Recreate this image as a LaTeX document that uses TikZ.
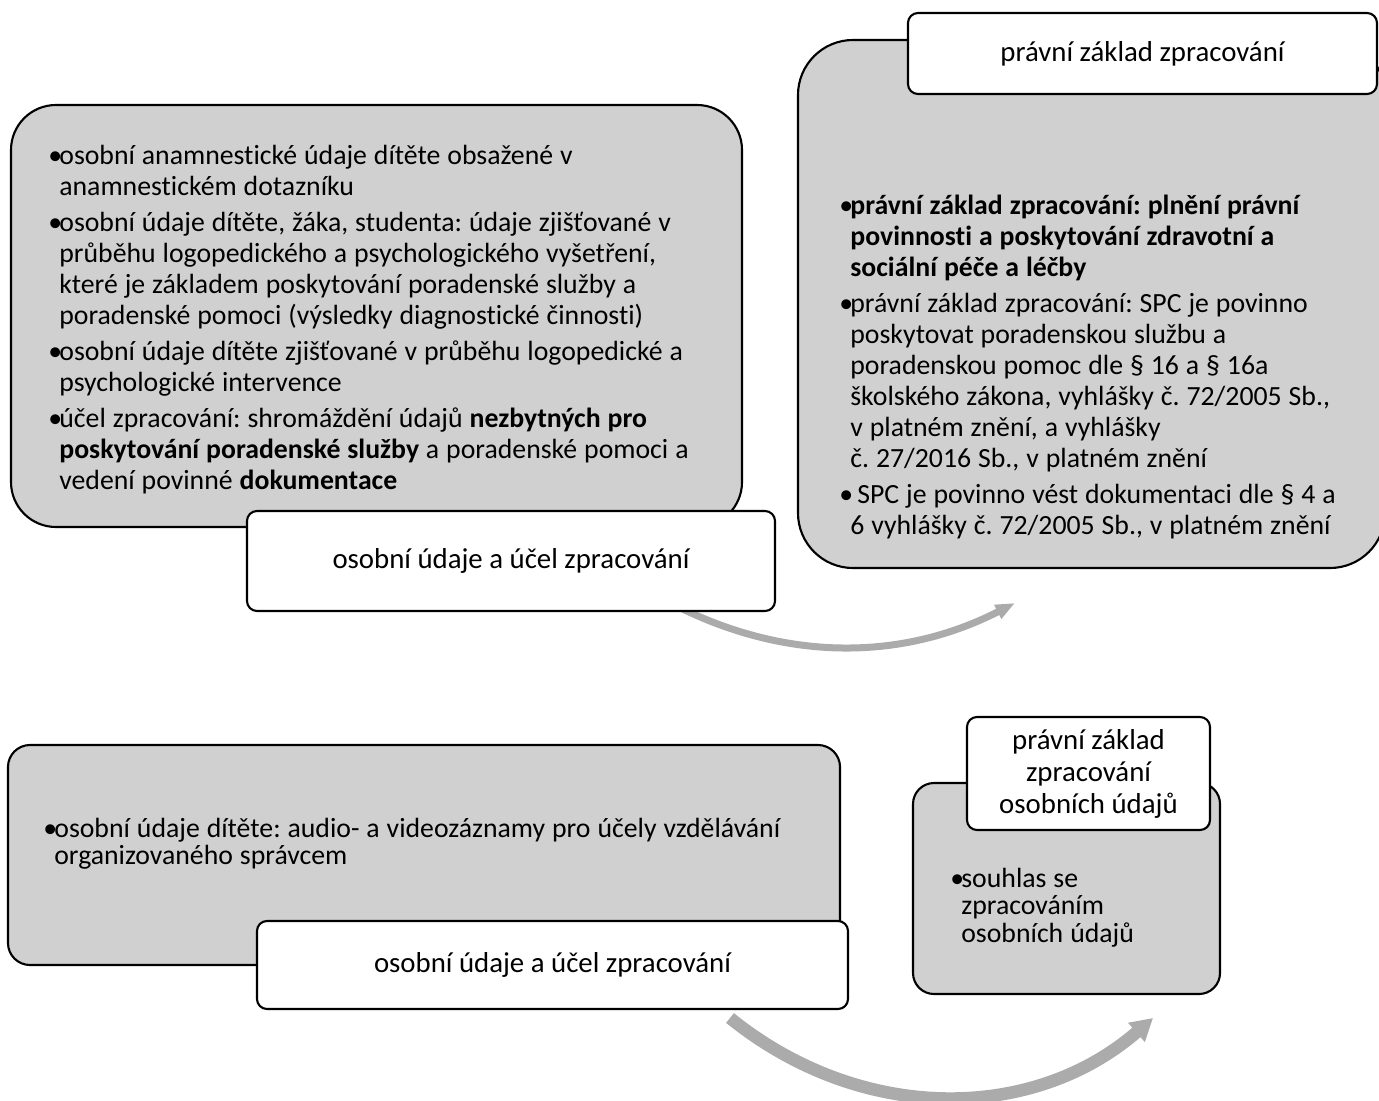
\documentclass[tikz,border=0pt]{standalone}
\usepackage{fontspec}
\setmainfont{Carlito}[Ligatures=NoCommon]
\usepackage{xcolor}
\usepackage{tikz}
\usetikzlibrary{arrows.meta}
\definecolor{PanelGray}{HTML}{D0D0D0}
\definecolor{ArrowGray}{HTML}{ABABAB}
\definecolor{Ink}{HTML}{000000}
\newlength{\bul}\setlength{\bul}{2.2mm}
\newcommand{\bitem}[1]{\noindent\hangindent=\bul\hangafter=1\makebox[\bul][l]{•}#1\par}

\begin{document}
\frenchspacing
\begin{tikzpicture}[x=0.2mm,y=-0.2mm,
  panel/.style={draw=Ink,line width=1.2pt,fill=PanelGray,rounded corners=#1,inner sep=0pt},
  panel/.default=0.9cm,
  tag/.style={draw=Ink,line width=1.2pt,fill=white,rounded corners=0.2cm,inner sep=0pt,align=center,font=\fontsize{16.4}{18.2}\selectfont},
  bullets/.style={text width=#1,align=left,inner sep=0pt,anchor=base west,execute at begin node={\raggedright\frenchspacing\spaceskip=0.25em\setlength{\parskip}{2.8pt}}},
  flow/.style={draw=ArrowGray,line width=#1}
]
\useasboundingbox (0,0) rectangle (1379,1100);
% grey panels
\node[panel=0.9cm,minimum width=146.2mm,minimum height=84.4mm] (p1) at (376.5,316) {};
\node[panel=1.1cm,minimum width=117.4mm,minimum height=105.6mm] (p2) at (1091.5,304) {};
\node[panel=0.44cm,minimum width=166.4mm,minimum height=44mm] (p3) at (424,855) {};
\node[panel=0.42cm,minimum width=61.4mm,minimum height=42.2mm] (p4) at (1066.5,888.5) {};
% arrows
\coordinate (a1) at (665,600);
\coordinate (b1) at (1015,603);
\coordinate (a2) at (730,1018);
\coordinate (b2) at (1153,1018);
\draw[flow=1.4mm,-{Triangle[length=3.9mm,width=2.9mm]}] (a1) .. controls (780,662) and (900,662) .. (b1);
\draw[flow=2.5mm,-{Triangle[length=4.4mm,width=4.8mm]}] (a2) .. controls (860,1123) and (1032,1123) .. (b2);
% white tags
\node[tag,minimum width=105.6mm,minimum height=20mm] (l1) at (511,561) {osobní údaje a účel zpracování};
\node[tag,minimum width=93.8mm,minimum height=16.2mm] (l2) at (1142.5,53.5) {právní základ zpracování};
\node[tag,minimum width=118.2mm,minimum height=17.6mm] (l3) at (552.5,965) {osobní údaje a účel zpracování};
\node[tag,minimum width=48.6mm,minimum height=22.6mm] (l4) at (1088.5,773.5) {právní základ\\zpracování\\osobních údajů};
% bullet texts
\node[bullets=140mm,font=\fontsize{15.8}{17.6}\selectfont] (t1) at (48,165) {%
\bitem{osobní anamnestické údaje dítěte obsažené v\newline anamnestickém dotazníku}
\bitem{osobní údaje dítěte, žáka, studenta: údaje zjišťované v\newline průběhu logopedického a psychologického vyšetření,\newline které je základem poskytování poradenské služby a\newline poradenské pomoci (výsledky diagnostické činnosti)}
\bitem{osobní údaje dítěte zjišťované v průběhu logopedické a\newline psychologické intervence}
\bitem{účel zpracování: shromáždění údajů \textbf{nezbytných pro}\newline \textbf{poskytování poradenské služby} a poradenské pomoci a\newline vedení povinné \textbf{dokumentace}}};
\node[bullets=105mm,font=\fontsize{15.8}{17.6}\selectfont] (t2) at (839,215) {%
\bitem{\textbf{právní základ zpracování: plnění právní\newline povinnosti a poskytování zdravotní a\newline sociální péče a léčby}}
\bitem{právní základ zpracování: SPC je povinno\newline poskytovat poradenskou službu a\newline poradenskou pomoc dle § 16 a § 16a\newline školského zákona, vyhlášky č. 72/2005 Sb.,\newline v platném znění, a vyhlášky\newline č. 27/2016 Sb., v platném znění}
\bitem{\ SPC je povinno vést dokumentaci dle § 4 a\newline 6 vyhlášky č. 72/2005 Sb., v platném znění}};
\node[bullets=160mm,font=\fontsize{15.8}{15.9}\selectfont] (t3) at (43,837) {%
\bitem{osobní údaje dítěte: audio- a videozáznamy pro účely vzdělávání\newline organizovaného správcem}};
\node[bullets=52mm,font=\fontsize{15.8}{15.9}\selectfont] (t4) at (950,887) {%
\bitem{souhlas se\newline zpracováním\newline osobních údajů}};
\end{tikzpicture}
\end{document}
